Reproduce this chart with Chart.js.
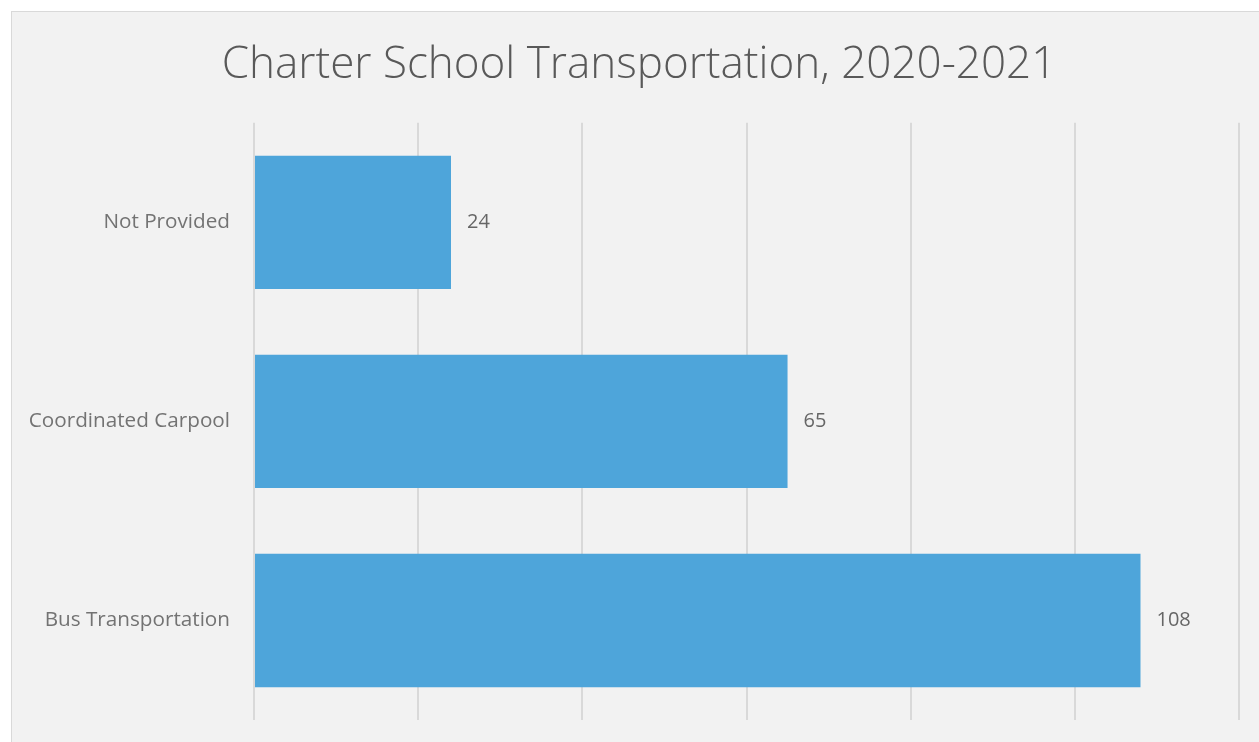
<!DOCTYPE html>
<html>
<head>
<meta charset="utf-8">
<script src="https://cdn.jsdelivr.net/npm/chart.js@4"></script>
<style>
  body { margin: 0; background: #fff; }
  #wrap {
    position: absolute; left: 11px; top: 11px;
    width: 1247px; height: 730px;
    border-left: 1px solid #d9d9d9; border-top: 1px solid #d9d9d9;
    background: #f2f2f2;
  }
</style>
</head>
<body>
<div id="wrap"><canvas id="chart" width="1247" height="730"></canvas></div>
<script>
const categories = ['Not Provided', 'Coordinated Carpool', 'Bus Transportation'];
const schools = [24, 65, 108];
const xTicks = [0, 20, 40, 60, 80, 100, 120];

// values drawn to the right of each bar
const barLabels = {
    id: 'barLabels',
    afterDatasetsDraw(chart) {
        const ctx = chart.ctx;
        const meta = chart.getDatasetMeta(0);
        ctx.save();
        ctx.font = '20px "Open Sans"';
        ctx.fillStyle = '#666666';
        ctx.textBaseline = 'middle';
        meta.data.forEach((bar, i) => {
            ctx.fillText(String(schools[i]), bar.x + 16, bar.y);
        });
        ctx.restore();
    }
};

// nudge the title box so the heading sits a bit right of canvas centre
const titleNudge = {
    id: 'titleNudge',
    afterLayout(chart) {
        if (chart.titleBlock) chart.titleBlock.left += 27;
    }
};

const ctx = document.getElementById('chart');
const myChart = new Chart(ctx, {
    type: 'bar',
    data: {
        labels: categories,
        datasets: [{
            data: schools,
            backgroundColor: '#4ea5da',
            borderWidth: 0,
            categoryPercentage: 1,
            barPercentage: 0.67
        }]
    },
    options: {
        indexAxis: 'y',
        responsive: false,
        animation: false,
        layout: { padding: { left: 0, right: 20, top: 0, bottom: 22 } },
        plugins: {
            legend: { display: false },
            tooltip: { enabled: false },
            title: {
                display: true,
                text: 'Charter School Transportation, 2020-2021',
                color: '#595959',
                font: { family: '"Open Sans"', size: 44, weight: 300 },
                padding: { top: 27, bottom: 31 }
            }
        },
        scales: {
            x: {
                min: 0,
                max: 120,
                afterBuildTicks: axis => { axis.ticks = xTicks.map(v => ({ value: v })); },
                afterFit: axis => { axis.height = 0; },
                ticks: { display: false },
                border: { display: false },
                grid: { color: '#d9d9d9', lineWidth: 2, drawTicks: false }
            },
            y: {
                afterFit: axis => {
                    axis.width = 242;
                    axis.paddingTop = 0;
                    axis.paddingBottom = 0;
                },
                ticks: {
                    padding: 24,
                    color: '#737373',
                    font: { family: '"Open Sans"', size: 20.7 }
                },
                border: { display: false },
                grid: { display: false, drawTicks: false }
            }
        }
    },
    plugins: [barLabels, titleNudge]
});
</script>
</body>
</html>
